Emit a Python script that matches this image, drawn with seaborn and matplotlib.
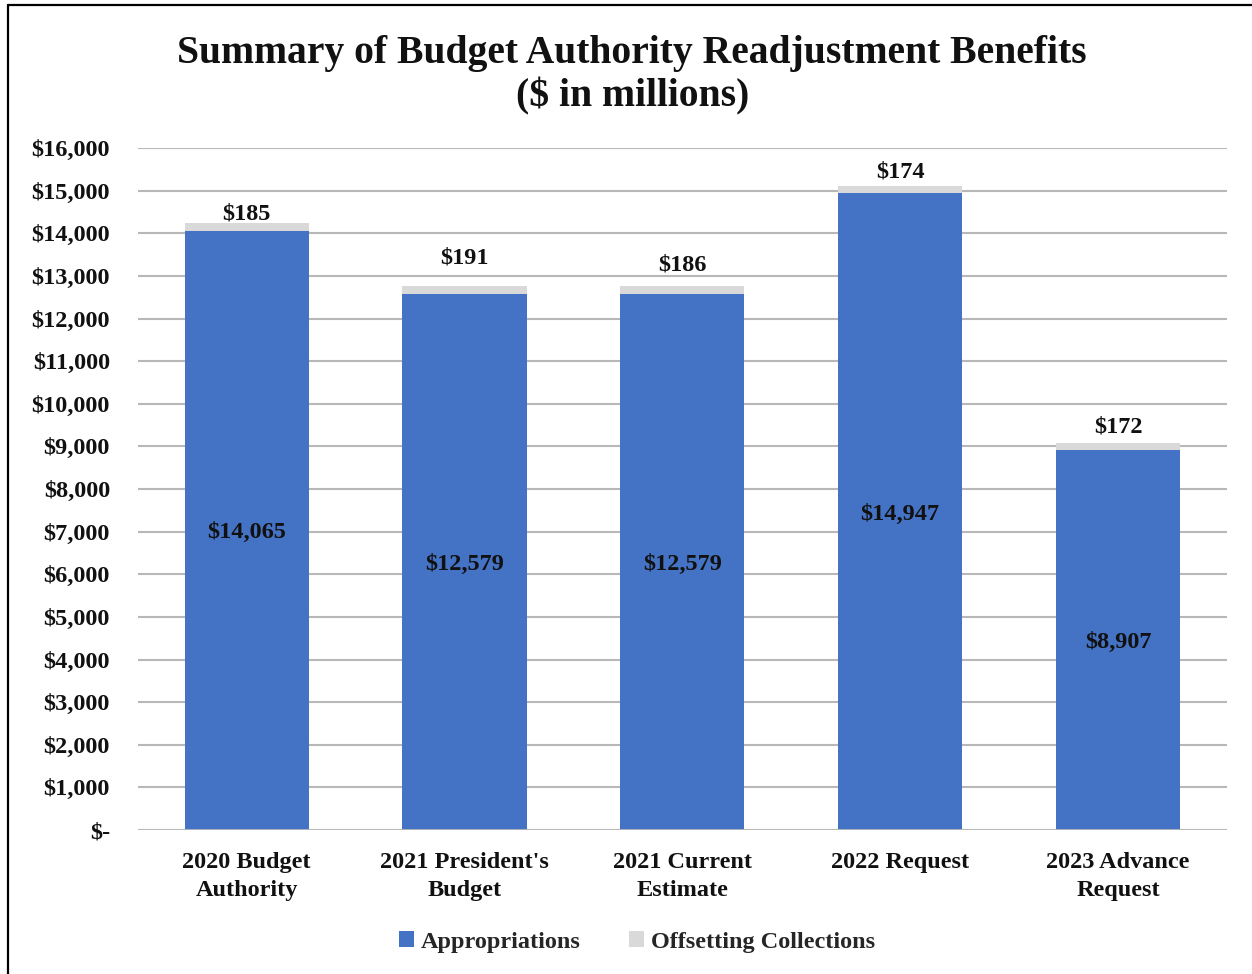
import matplotlib
matplotlib.use("Agg")
import matplotlib.pyplot as plt
from matplotlib.lines import Line2D
from matplotlib.patches import Patch
from matplotlib.ticker import FuncFormatter
import seaborn as sns
import pandas as pd

categories = ["2020 Budget\nAuthority", "2021 President's\nBudget", "2021 Current\nEstimate",
              "2022 Request", "2023 Advance\nRequest"]
appropriations = [14065, 12579, 12579, 14947, 8907]
offsetting = [185, 191, 186, 174, 172]
yticks = list(range(0, 16001, 1000))

# vertical nudge (in pixels) of each offsetting-collections label above its bar
label_lift = [11, 30, 23, 16, 19]

BLUE = "#4472C4"
GREY = "#D9D9D9"
GRID = "#B8B8B8"
INK = "#111111"
FS = 17.5

sns.set_theme(style="white")
plt.rcParams["font.family"] = ["Liberation Serif", "DejaVu Serif"]
plt.rcParams["font.weight"] = "bold"

df = pd.DataFrame({
    "category": categories,
    "appropriations": appropriations,
    "offsetting": offsetting,
})
df["total"] = df["appropriations"] + df["offsetting"]

fig = plt.figure(figsize=(12.52, 9.74), dpi=100)
ax = fig.add_axes([0.110, 0.1478, 0.870, 0.7002])

# stacked bars: total in grey underneath, appropriations in blue on top
sns.barplot(data=df, x="category", y="total", color=GREY, width=0.57,
            saturation=1, linewidth=0, edgecolor="none", ax=ax, zorder=2)
sns.barplot(data=df, x="category", y="appropriations", color=BLUE, width=0.57,
            saturation=1, linewidth=0, edgecolor="none", ax=ax, zorder=3)

ax.set_ylim(0, 16000)
ax.set_xlim(-0.5, len(categories) - 0.5)
ax.set_yticks(yticks)
ax.yaxis.set_major_formatter(FuncFormatter(lambda v, p: "$-" if v == 0 else f"${v:,.0f}"))
ax.grid(axis="y", color=GRID, linewidth=1.5, zorder=0)
ax.set_axisbelow(True)
for s in ax.spines.values():
    s.set_visible(False)
ax.axhline(0, color=GRID, linewidth=2, zorder=4)
ax.tick_params(axis="y", length=0, pad=20, labelsize=FS)
ax.tick_params(axis="x", length=0, pad=16, labelsize=FS)
for lab in ax.get_xticklabels() + ax.get_yticklabels():
    lab.set_fontweight("bold")
    lab.set_color(INK)
    lab.set_linespacing(1.45)
ax.set_xlabel("")
ax.set_ylabel("")

px_per_unit = ax.get_window_extent().height / 16000
for i, (a, o) in enumerate(zip(appropriations, offsetting)):
    ax.text(i, a / 2, f"${a:,}", ha="center", va="center_baseline", fontsize=FS,
            fontweight="bold", color=INK, zorder=5)
    ax.text(i, a + o + label_lift[i] / px_per_unit, f"${o:,}", ha="center",
            va="center_baseline", fontsize=FS, fontweight="bold", color=INK, zorder=5)

handles = [Patch(facecolor=BLUE, edgecolor="none", label="Appropriations"),
           Patch(facecolor=GREY, edgecolor="none", label="Offsetting Collections")]
fig.legend(handles=handles, loc="center", bbox_to_anchor=(0.509, 0.033), ncol=2,
           frameon=False, handlelength=0.6, handleheight=0.6,
           handletextpad=0.3, columnspacing=2.0, prop={"weight": "bold", "size": FS})

fig.text(0.505, 0.923, "Summary of Budget Authority Readjustment Benefits\n($ in millions)",
         ha="center", va="center", fontsize=28.5, fontweight="bold", color=INK,
         linespacing=1.2)

# frame on the left and top edges
fig.add_artist(Line2D([8 / 1252, 8 / 1252], [0, 1 - 5 / 974], transform=fig.transFigure,
                      color="black", linewidth=1.6))
fig.add_artist(Line2D([8 / 1252, 1], [1 - 5 / 974, 1 - 5 / 974], transform=fig.transFigure,
                      color="black", linewidth=1.6))

fig.savefig("out.png", dpi=100)
